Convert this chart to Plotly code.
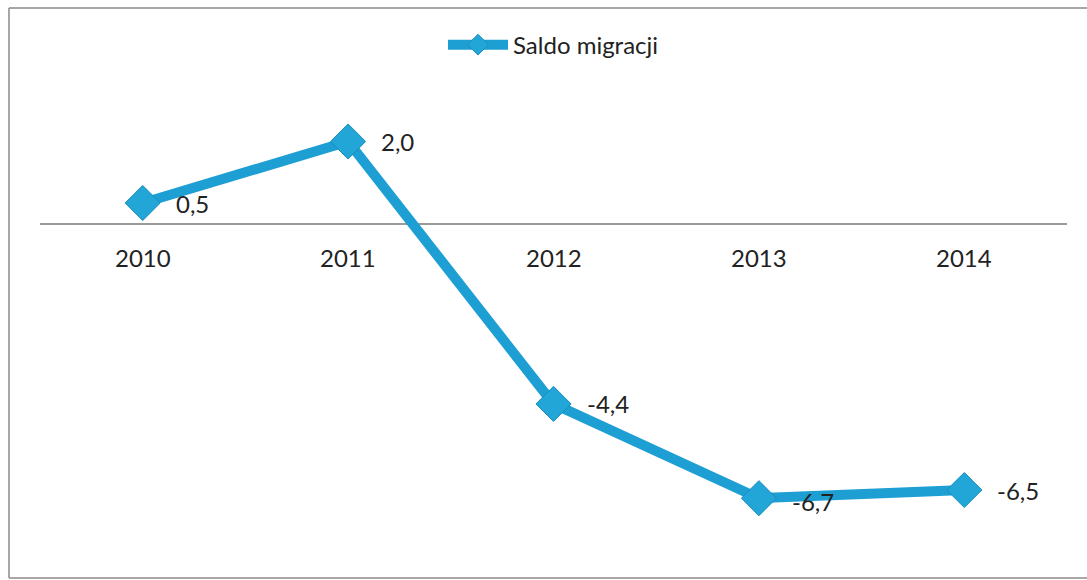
import plotly.graph_objects as go

categories = ["2010", "2011", "2012", "2013", "2014"]
values = [0.5, 2.0, -4.4, -6.7, -6.5]
labels = ["0,5", "2,0", "-4,4", "-6,7", "-6,5"]
series_name = "Saldo migracji"

LINE = "#1E9FD3"
FONT = "Lato, 'Open Sans', sans-serif"
TXT = "#222222"

fig = go.Figure()
fig.add_trace(go.Scatter(
    x=list(range(len(categories))), y=values, name=series_name,
    mode="lines+markers",
    line=dict(color=LINE, width=10),
    marker=dict(symbol="diamond", size=27, color="#22A6D8",
                line=dict(color="#1A8DBB", width=1)),
    cliponaxis=False,
))

# category labels under the zero line
for i, c in enumerate(categories):
    fig.add_annotation(x=i, y=0, text=c, showarrow=False, yshift=-34,
                       font=dict(family=FONT, size=24, color=TXT))

# data labels to the right of each marker
for i, (v, lab) in enumerate(zip(values, labels)):
    fig.add_annotation(x=i, y=v, text=lab, showarrow=False, xanchor="left",
                       xshift=31, yshift=(-3 if i == 3 else 0),
                       font=dict(family=FONT, size=24, color=TXT))

# chart border (left, top, bottom; right edge lies outside the picture)
border = dict(color="#8a8a8a", width=1.5)
x0, x1, y0, y1 = -0.0302, 1.0195, -0.0122, 1.1463
fig.add_shape(type="line", xref="paper", yref="paper", x0=x0, x1=x0, y0=y0, y1=y1, line=border)
fig.add_shape(type="line", xref="paper", yref="paper", x0=x0, x1=x1, y0=y1, y1=y1, line=border)
fig.add_shape(type="line", xref="paper", yref="paper", x0=x0, x1=x1, y0=y0, y1=y0, line=border)

fig.update_layout(
    width=1087, height=580,
    margin=dict(l=40, r=20, t=80, b=8),
    paper_bgcolor="white", plot_bgcolor="white",
    showlegend=True,
    legend=dict(orientation="h", x=0.5, xanchor="center", y=1.071, yanchor="middle",
                font=dict(family=FONT, size=24, color=TXT), itemwidth=60),
    xaxis=dict(range=[-0.5, 4.5], showgrid=False, showline=False,
               showticklabels=False, zeroline=False, ticks=""),
    yaxis=dict(range=[-8.5, 3.5], showgrid=False, showline=False, showticklabels=False,
               zeroline=True, zerolinecolor="#9a9a9a", zerolinewidth=1.5, ticks=""),
)

fig.write_html("out.html", config={"displayModeBar": False},
               post_script="document.documentElement.style.overflow='hidden';"
                           "document.body.style.margin='0';document.body.style.overflow='hidden';")
